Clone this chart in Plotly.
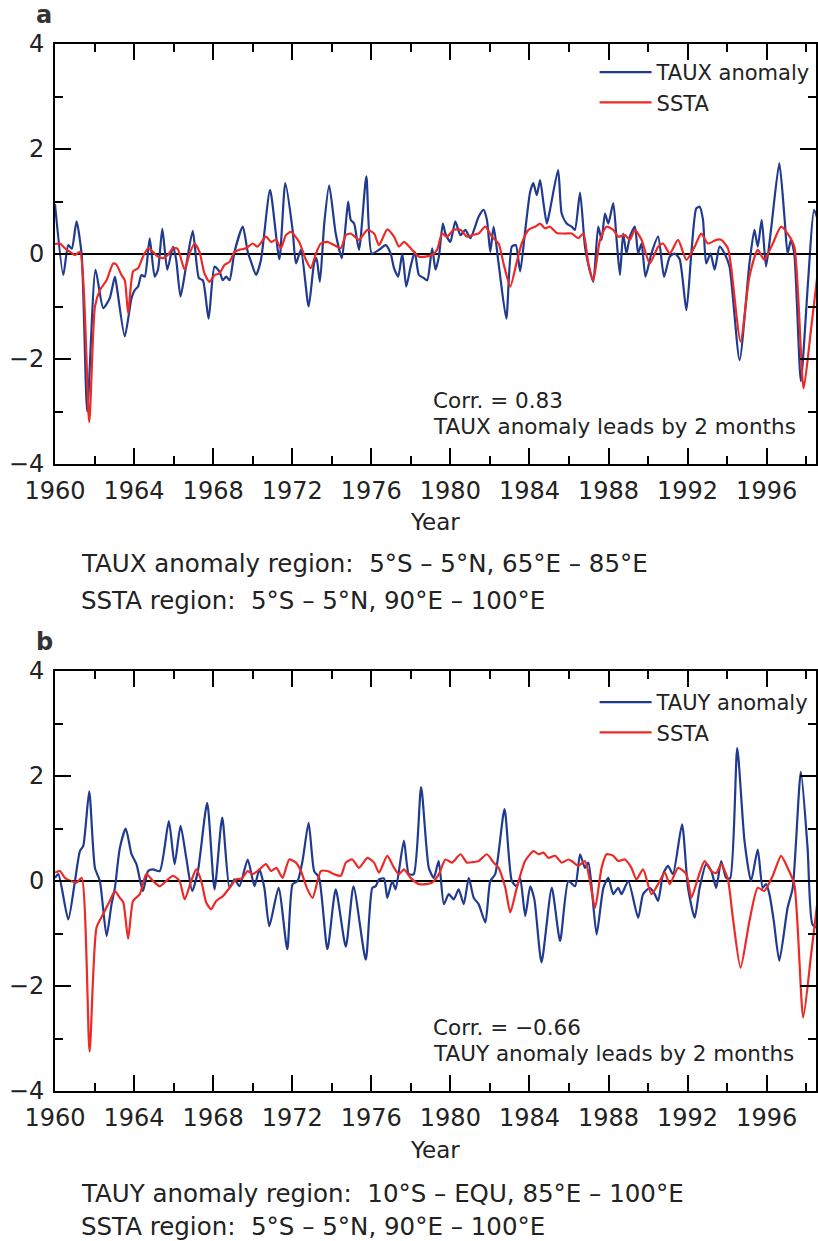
import plotly.graph_objects as go

# ---------------- data (decimal year, anomaly) ----------------
# Panel a: zonal wind stress anomaly and SST anomaly
taux_year = [1960.0, 1960.42, 1960.67, 1960.85, 1961.09, 1961.35, 1961.63, 1962.05, 1962.44, 1962.77,
             1963.03, 1963.15, 1963.53, 1963.87, 1964.03, 1964.2, 1964.37, 1964.54, 1964.79, 1965.04,
             1965.21, 1965.43, 1965.68, 1965.97, 1966.13, 1966.35, 1966.64, 1966.97, 1967.28, 1967.48,
             1967.77, 1968.07, 1968.32, 1968.49, 1968.66, 1968.83, 1969.08, 1969.5, 1969.75, 1969.92,
             1970.17, 1970.42, 1970.88, 1971.35, 1971.65, 1972.02, 1972.19, 1972.44, 1972.83, 1973.11,
             1973.23, 1973.4, 1973.62, 1973.87, 1974.2, 1974.51, 1974.71, 1974.83, 1974.96, 1975.13,
             1975.38, 1975.75, 1976.02, 1976.39, 1976.73, 1976.98, 1977.15, 1977.36, 1977.57, 1977.77,
             1977.99, 1978.2, 1978.41, 1978.66, 1978.83, 1979.08, 1979.25, 1979.42, 1979.62, 1979.75,
             1980.0, 1980.25, 1980.51, 1980.76, 1981.01, 1981.43, 1981.68, 1981.85, 1982.02, 1982.19,
             1982.44, 1982.83, 1983.11, 1983.31, 1983.53, 1983.79, 1984.04, 1984.2, 1984.37, 1984.54,
             1984.71, 1984.88, 1985.04, 1985.45, 1985.63, 1985.88, 1986.14, 1986.3, 1986.56, 1986.81,
             1987.06, 1987.23, 1987.48, 1987.65, 1987.82, 1987.99, 1988.24, 1988.41, 1988.58, 1988.74,
             1988.91, 1989.08, 1989.33, 1989.5, 1989.67, 1989.87, 1990.17, 1990.51, 1990.81, 1991.1,
             1991.35, 1991.6, 1991.94, 1992.19, 1992.44, 1992.61, 1992.78, 1992.94, 1993.16, 1993.37,
             1993.62, 1993.87, 1994.12, 1994.63, 1995.13, 1995.38, 1995.55, 1995.75, 1995.97, 1996.22,
             1996.64, 1996.9, 1997.06, 1997.23, 1997.4, 1997.73, 1998.1, 1998.4, 1998.7]
taux_anom = [0.95, -0.4, 0.17, 0.1, 0.62, -0.02, -3.0, -0.3, -1.03, -0.84,
             -0.43, -0.69, -1.57, -0.84, -0.69, -0.62, -0.4, -0.43, 0.3, -0.43,
             -0.3, 0.48, -0.3, 0.14, -0.11, -0.81, -0.21, 0.44, -0.46, -0.5,
             -1.23, -0.24, -0.33, -0.5, -0.43, -0.5, 0.04, 0.52, 0.04, -0.15,
             -0.4, -0.11, 1.22, -0.1, 1.35, 0.46, -0.18, 0.08, -1.0, -0.17,
             -0.08, -0.53, 0.58, 1.31, 0.39, -0.08, 0.58, 1.0, 0.65, 0.58,
             0.08, 1.48, 0.01, 0.08, 0.17, 0.01, -0.27, -0.43, 0.01, -0.62,
             -0.24, 0.04, -0.4, -0.46, -0.5, 0.11, -0.3, -0.05, 0.58, 0.39,
             0.23, 0.62, 0.36, 0.46, 0.3, 0.71, 0.84, 0.65, 0.04, 0.52,
             -0.18, -1.23, 0.14, 0.17, -0.33, 0.46, 1.19, 1.35, 1.12, 1.41,
             0.97, 0.58, 0.84, 1.6, 0.77, 0.58, 0.52, 0.46, 1.17, 0.14,
             -0.33, -0.53, 0.52, 0.27, 0.77, 0.58, 0.97, 0.27, -0.4, 0.39,
             0.01, 0.33, 0.52, 0.01, 0.2, -0.43, 0.01, 0.33, -0.43, -0.05,
             0.01, -0.1, -1.07, 0.01, 0.87, 0.9, 0.65, -0.18, 0.01, -0.3,
             0.14, 0.01, -0.24, -2.02, -0.18, 0.46, 0.14, 0.65, -0.24, 0.46,
             1.73, 0.71, 0.01, 0.27, 0.0, -2.42, -0.5, 0.84, 0.5]

ssta_a_year = [1960.0, 1960.25, 1960.5, 1960.76, 1961.0, 1961.26, 1961.73, 1962.02, 1962.27, 1962.61,
               1962.94, 1963.1, 1963.36, 1963.53, 1963.7, 1963.95, 1964.2, 1964.45, 1964.71, 1964.96,
               1965.21, 1965.46, 1965.71, 1965.97, 1966.2, 1966.56, 1966.81, 1967.06, 1967.31, 1967.56,
               1967.82, 1968.07, 1968.32, 1968.57, 1968.83, 1969.08, 1969.33, 1969.67, 1970.0, 1970.25,
               1970.67, 1970.93, 1971.18, 1971.43, 1971.68, 1971.94, 1972.35, 1972.69, 1972.94, 1973.2,
               1973.45, 1973.78, 1974.12, 1974.46, 1974.71, 1974.96, 1975.38, 1975.8, 1976.14, 1976.39,
               1976.81, 1977.15, 1977.4, 1977.65, 1977.99, 1978.41, 1978.74, 1979.08, 1979.33, 1979.58,
               1979.83, 1980.17, 1980.51, 1980.84, 1981.09, 1981.43, 1981.77, 1982.1, 1982.44, 1982.69,
               1983.03, 1983.36, 1983.61, 1983.95, 1984.29, 1984.54, 1984.79, 1985.04, 1985.38, 1985.8,
               1986.14, 1986.47, 1986.73, 1986.98, 1987.23, 1987.57, 1987.9, 1988.24, 1988.49, 1988.83,
               1989.08, 1989.33, 1989.67, 1990.09, 1990.51, 1990.76, 1991.1, 1991.52, 1991.94, 1992.36,
               1992.69, 1993.03, 1993.45, 1993.7, 1994.04, 1994.2, 1994.68, 1995.13, 1995.55, 1995.88,
               1996.31, 1996.73, 1997.06, 1997.4, 1997.87, 1998.24, 1998.6]
ssta_a_anom = [0.19, 0.2, 0.11, 0.04, -0.02, 0.04, -3.2, -1.0, -0.69, -0.5,
               -0.18, -0.2, -0.4, -0.5, -1.13, -0.33, -0.27, -0.05, 0.11, 0.04,
               -0.05, -0.08, -0.02, 0.11, 0.1, -0.3, 0.01, 0.2, 0.04, -0.37,
               -0.53, -0.4, -0.37, -0.21, -0.15, 0.04, 0.08, 0.11, 0.2, 0.14,
               0.33, 0.23, 0.27, 0.11, 0.36, 0.42, 0.23, -0.11, -0.27, 0.01,
               0.2, 0.23, 0.17, 0.11, 0.36, 0.39, 0.27, 0.46, 0.39, 0.17,
               0.47, 0.33, 0.14, 0.23, 0.11, -0.05, -0.05, -0.02, 0.08, 0.39,
               0.33, 0.46, 0.46, 0.33, 0.36, 0.39, 0.52, 0.33, 0.2, -0.18,
               -0.62, -0.15, 0.2, 0.46, 0.52, 0.58, 0.49, 0.52, 0.4, 0.39,
               0.39, 0.3, 0.39, -0.18, -0.5, 0.27, 0.52, 0.46, 0.33, 0.36,
               0.27, 0.46, 0.27, -0.18, 0.14, 0.2, 0.01, 0.27, -0.11, 0.14,
               0.39, 0.2, 0.27, 0.27, 0.11, -0.24, -1.67, -0.43, 0.08, -0.11,
               0.2, 0.52, 0.39, 0.14, -2.56, -1.45, -0.3]

# Panel b: meridional wind stress anomaly and SST anomaly
tauy_year = [1960.0, 1960.17, 1960.67, 1961.01, 1961.26, 1961.43, 1961.73, 1962.02, 1962.27, 1962.61,
             1962.86, 1963.03, 1963.28, 1963.58, 1963.87, 1964.12, 1964.45, 1964.71, 1964.96, 1965.3,
             1965.76, 1966.05, 1966.35, 1966.64, 1966.94, 1967.23, 1967.7, 1968.07, 1968.46, 1968.83,
             1969.08, 1969.33, 1969.75, 1970.09, 1970.34, 1970.59, 1970.84, 1971.31, 1971.75, 1972.02,
             1972.27, 1972.52, 1972.83, 1973.11, 1973.36, 1973.78, 1974.2, 1974.71, 1975.1, 1975.72,
             1976.05, 1976.22, 1976.39, 1976.64, 1976.81, 1977.06, 1977.23, 1977.65, 1977.9, 1978.15,
             1978.52, 1978.91, 1979.16, 1979.41, 1979.67, 1979.92, 1980.17, 1980.42, 1980.68, 1980.93,
             1981.18, 1981.43, 1981.77, 1982.02, 1982.27, 1982.74, 1983.11, 1983.36, 1983.53, 1983.79,
             1984.04, 1984.25, 1984.61, 1985.13, 1985.55, 1985.97, 1986.31, 1986.56, 1986.81, 1986.98,
             1987.15, 1987.4, 1987.74, 1987.99, 1988.24, 1988.49, 1988.66, 1989.0, 1989.5, 1989.75,
             1990.09, 1990.34, 1990.51, 1990.76, 1991.01, 1991.26, 1991.72, 1992.02, 1992.36, 1992.61,
             1992.94, 1993.2, 1993.45, 1993.7, 1993.95, 1994.15, 1994.51, 1994.88, 1995.21, 1995.55,
             1995.8, 1995.97, 1996.14, 1996.36, 1996.64, 1997.06, 1997.32, 1997.73, 1998.07, 1998.32,
             1998.6]
tauy_anom = [0.06, 0.13, -0.73, 0.0, 0.57, 0.67, 1.71, 0.25, 0.0, -1.05,
             -0.44, -0.13, 0.63, 1.0, 0.51, 0.32, -0.19, 0.19, 0.22, 0.19,
             1.14, 0.32, 1.05, 0.44, -0.19, 0.19, 1.49, -0.16, 1.21, -0.13,
             0.03, -0.1, 0.41, -0.1, 0.22, -0.13, -0.86, -0.13, -1.3, -0.06,
             0.0, 0.38, 1.11, 0.19, 0.06, -1.3, -0.16, -1.25, -0.1, -1.5,
             -0.13, -0.1, 0.03, 0.05, -0.32, 0.0, -0.16, 0.77, 0.13, 0.13,
             1.79, 0.25, 0.06, 0.38, -0.44, -0.25, -0.35, -0.16, -0.44, 0.06,
             -0.32, -0.44, -0.79, 0.0, 0.13, 1.37, 0.0, -0.1, 0.06, -0.67,
             -0.1, -0.35, -1.55, -0.13, -1.14, 0.0, -0.1, 0.51, 0.25, 0.35,
             -0.13, -1.02, -0.13, 0.06, -0.25, -0.13, -0.25, 0.0, -0.7, -0.25,
             -0.13, -0.25, -0.38, 0.13, 0.29, 0.13, 1.08, -0.13, -0.7, -0.13,
             0.32, 0.19, -0.13, 0.38, 0.06, 0.05, 2.53, 0.76, 0.0, 0.6,
             -0.13, -0.06, -0.25, -0.76, -1.52, -0.51, -0.13, 2.08, 0.63, -0.83,
             -0.9]

ssta_b_year = [1960.0, 1960.25, 1960.5, 1960.8, 1961.09, 1961.35, 1961.75, 1962.1, 1962.44, 1962.77,
               1963.03, 1963.28, 1963.45, 1963.7, 1963.95, 1964.29, 1964.62, 1964.96, 1965.3, 1965.63,
               1965.97, 1966.3, 1966.56, 1966.89, 1967.15, 1967.4, 1967.65, 1967.9, 1968.15, 1968.49,
               1968.83, 1969.16, 1969.45, 1969.75, 1970.0, 1970.34, 1970.67, 1970.93, 1971.2, 1971.51,
               1971.85, 1972.19, 1972.44, 1972.77, 1973.03, 1973.28, 1973.45, 1973.78, 1974.12, 1974.46,
               1974.71, 1975.04, 1975.38, 1975.8, 1976.14, 1976.39, 1976.81, 1977.15, 1977.4, 1977.65,
               1977.99, 1978.41, 1978.74, 1979.08, 1979.42, 1979.75, 1980.08, 1980.51, 1980.84, 1981.15,
               1981.43, 1981.85, 1982.19, 1982.44, 1982.78, 1983.03, 1983.36, 1983.78, 1984.21, 1984.46,
               1984.71, 1984.96, 1985.3, 1985.63, 1985.97, 1986.14, 1986.47, 1986.81, 1987.06, 1987.32,
               1987.65, 1987.9, 1988.24, 1988.49, 1988.83, 1989.16, 1989.41, 1989.75, 1990.17, 1990.51,
               1990.85, 1991.1, 1991.52, 1991.94, 1992.19, 1992.53, 1992.86, 1993.2, 1993.45, 1993.7,
               1994.04, 1994.29, 1994.68, 1995.13, 1995.55, 1995.88, 1996.31, 1996.73, 1997.06, 1997.4,
               1997.85, 1998.25, 1998.6]
ssta_b_anom = [0.16, 0.19, 0.06, 0.0, -0.03, 0.06, -3.25, -0.89, -0.63, -0.38,
               -0.19, -0.32, -0.4, -1.1, -0.38, -0.25, 0.13, 0.0, -0.1, 0.0,
               0.1, 0.0, -0.35, 0.0, 0.22, 0.0, -0.41, -0.54, -0.38, -0.29,
               -0.13, 0.03, 0.05, 0.19, 0.13, 0.22, 0.32, 0.19, 0.25, 0.06,
               0.41, 0.35, 0.19, -0.16, -0.32, 0.0, 0.19, 0.19, 0.13, 0.1,
               0.35, 0.41, 0.25, 0.44, 0.35, 0.16, 0.48, 0.25, 0.13, 0.22,
               0.06, -0.06, -0.06, -0.03, 0.13, 0.41, 0.35, 0.51, 0.35, 0.36,
               0.38, 0.51, 0.35, 0.25, -0.13, -0.6, -0.13, 0.38, 0.57, 0.51,
               0.54, 0.44, 0.48, 0.35, 0.41, 0.38, 0.29, 0.38, 0.0, -0.51,
               0.25, 0.51, 0.48, 0.38, 0.41, 0.25, 0.03, 0.22, -0.25, -0.06,
               0.16, -0.06, 0.25, 0.13, -0.32, 0.06, 0.38, 0.19, 0.15, 0.32,
               0.03, -0.7, -1.65, -0.76, -0.13, -0.19, 0.1, 0.48, 0.25, -0.06,
               -2.6, -1.4, -0.3]

year_ticks = list(range(1960, 1997, 4))

# ---------------- layout geometry ----------------
W, H = 818, 1241
ML, MR, MT, MB = 55, 0, 44, 150
PX_PER_YEAR = 19.82
x_end = 1960 + (W - ML - MR) / PX_PER_YEAR
plot_w = W - ML - MR
plot_h = H - MT - MB


def xp(px):
    return (px - ML) / plot_w


def yp(py):
    return (H - MB - py) / plot_h


# panel frames in page pixels (top, bottom)
A_TOP, A_BOT = 44, 464
B_TOP, B_BOT = 671, 1091

BLUE = "#1f3a8f"
RED = "#ec2a26"
FONT = "DejaVu Sans"
TXT = "#222222"

fig = go.Figure()

line_kw = dict(shape="spline", smoothing=0.6, width=2.2)
fig.add_trace(go.Scatter(x=taux_year, y=taux_anom, mode="lines", name="TAUX anomaly",
                         line=dict(color=BLUE, **line_kw), xaxis="x", yaxis="y",
                         legend="legend", legendgroup="a1"))
fig.add_trace(go.Scatter(x=ssta_a_year, y=ssta_a_anom, mode="lines", name="SSTA",
                         line=dict(color=RED, **line_kw), xaxis="x", yaxis="y",
                         legend="legend", legendgroup="a2"))
fig.add_trace(go.Scatter(x=tauy_year, y=tauy_anom, mode="lines", name="TAUY anomaly",
                         line=dict(color=BLUE, **line_kw), xaxis="x2", yaxis="y2",
                         legend="legend2", legendgroup="b1"))
fig.add_trace(go.Scatter(x=ssta_b_year, y=ssta_b_anom, mode="lines", name="SSTA",
                         line=dict(color=RED, **line_kw), xaxis="x2", yaxis="y2",
                         legend="legend2", legendgroup="b2"))

xax = dict(range=[1960, x_end], tickmode="array", tickvals=year_ticks,
           ticktext=[str(y) for y in year_ticks],
           ticks="inside", ticklen=16, tickwidth=2, tickcolor="black",
           minor=dict(ticks="inside", ticklen=8, tickwidth=2, tickcolor="black",
                      tickmode="array", tickvals=[y + 2 for y in year_ticks]),
           showline=True, linewidth=2, linecolor="black", mirror="ticks",
           showgrid=False, zeroline=False, ticklabelstandoff=4,
           tickfont=dict(family=FONT, size=24, color=TXT))
yax = dict(range=[-4, 4], tickvals=[-4, -2, 0, 2, 4],
           ticks="inside", ticklen=16, tickwidth=2, tickcolor="black",
           minor=dict(ticks="inside", ticklen=8, tickwidth=2, tickcolor="black",
                      tickvals=[-3, -1, 1, 3]),
           showline=True, linewidth=2, linecolor="black", mirror="ticks",
           showgrid=False, zeroline=True, zerolinecolor="black", zerolinewidth=1.6,
           ticklabelstandoff=4,
           tickfont=dict(family=FONT, size=24, color=TXT))

legend_kw = dict(xanchor="left", yanchor="top", bgcolor="rgba(0,0,0,0)",
                 font=dict(family=FONT, size=21, color=TXT),
                 tracegroupgap=0, itemwidth=52)

fig.update_layout(
    width=W, height=H,
    margin=dict(l=ML, r=MR, t=MT, b=MB),
    paper_bgcolor="white", plot_bgcolor="white",
    font=dict(family=FONT, color=TXT),
    xaxis=dict(domain=[0, 1], anchor="y", **xax),
    yaxis=dict(domain=[yp(A_BOT), yp(A_TOP)], anchor="x", **yax),
    xaxis2=dict(domain=[0, 1], anchor="y2", **xax),
    yaxis2=dict(domain=[yp(B_BOT), yp(B_TOP)], anchor="x2", **yax),
    legend=dict(x=xp(596), y=yp(A_TOP + 8), **legend_kw),
    legend2=dict(x=xp(596), y=yp(B_TOP + 11), **legend_kw),
)

ann = []


def text(px, py, s, size=22, xanchor="left", bold=False, color=TXT):
    ann.append(dict(x=xp(px), y=yp(py), xref="paper", yref="paper", text=s,
                    showarrow=False, xanchor=xanchor, yanchor="middle",
                    font=dict(family=FONT, size=size, color=color,
                              weight="bold" if bold else "normal")))


# panel letters
text(44, 15, "a", size=24, xanchor="center", bold=True, color="#333333")
text(44, 642, "b", size=24, xanchor="center", bold=True, color="#333333")

# axis titles
text(436, 522, "Year", size=23, xanchor="center")
text(436, 1150, "Year", size=23, xanchor="center")

# correlation notes
text(432, 400.5, "Corr. = 0.83", size=21.5)
text(432, 426, "TAUX anomaly leads by 2 months", size=21.5)
text(432, 1027.5, "Corr. = \u22120.66", size=21.5)
text(432, 1053, "TAUY anomaly leads by 2 months", size=21.5)

# region descriptions
text(79, 563, "TAUX anomaly region:  5\u00b0S \u2013 5\u00b0N, 65\u00b0E \u2013 85\u00b0E", size=24.5)
text(79, 600, "SSTA region:  5\u00b0S \u2013 5\u00b0N, 90\u00b0E \u2013 100\u00b0E", size=24.5)
text(79, 1193, "TAUY anomaly region:  10\u00b0S \u2013 EQU, 85\u00b0E \u2013 100\u00b0E", size=24.5)
text(79, 1226, "SSTA region:  5\u00b0S \u2013 5\u00b0N, 90\u00b0E \u2013 100\u00b0E", size=24.5)

fig.update_layout(annotations=ann)

fig.write_html("out.html")
